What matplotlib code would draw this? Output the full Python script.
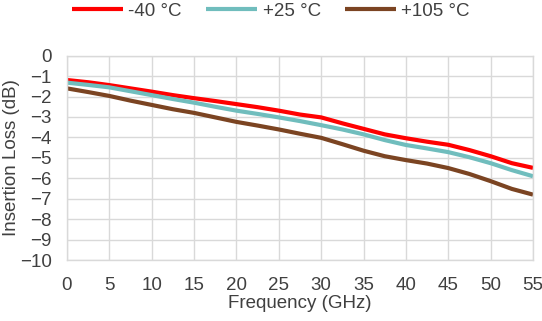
import numpy as np
import matplotlib
matplotlib.use('Agg')
import matplotlib.pyplot as plt

plt.rcParams['font.family'] = ['Liberation Sans', 'DejaVu Sans']

# ==========
# Data
# ==========

freq_ghz = [0, 2.5, 5, 7.5, 10, 12.5, 15, 17.5, 20, 22.5, 25, 27.5,
            30, 32.5, 35, 37.5, 40, 42.5, 45, 47.5, 50, 52.5, 55]

loss_m40 = [-1.19, -1.30, -1.44, -1.60, -1.76, -1.93, -2.08, -2.22, -2.37, -2.52,
            -2.69, -2.88, -3.02, -3.31, -3.58, -3.85, -4.04, -4.21, -4.36, -4.62,
            -4.92, -5.26, -5.49]
loss_p25 = [-1.32, -1.43, -1.55, -1.74, -1.93, -2.12, -2.30, -2.50, -2.69, -2.85,
            -3.02, -3.20, -3.40, -3.61, -3.85, -4.13, -4.37, -4.54, -4.72, -4.97,
            -5.26, -5.60, -5.90]
loss_p105 = [-1.60, -1.78, -1.97, -2.20, -2.41, -2.62, -2.80, -3.02, -3.24, -3.42,
             -3.61, -3.82, -4.02, -4.33, -4.65, -4.92, -5.11, -5.28, -5.50, -5.79,
             -6.14, -6.52, -6.80]

labels = ['-40 °C', '+25 °C', '+105 °C']
colors = ['#ff0000', '#70bdbd', '#7b4422']

# ==========
# Plot
# ==========

fig = plt.figure(figsize=(5.42, 3.21), dpi=100)
ax = fig.add_axes([0.1236, 0.19, 0.8598, 0.6365])

for y, lab, c in zip([loss_m40, loss_p25, loss_p105], labels, colors):
    ax.plot(freq_ghz, y, color=c, lw=3, label=lab, solid_capstyle='butt')

ax.set_xlim(0, 55)
ax.set_ylim(-10, 0)
ax.set_xticks(np.arange(0, 56, 5))
ax.set_yticks(np.arange(-10, 1, 1))
ax.grid(True, color='#d9d9d9', lw=1)
ax.set_axisbelow(True)
for s in ax.spines.values():
    s.set_color('#d9d9d9')
    s.set_linewidth(1)
ax.tick_params(length=0, labelsize=13.5, colors='#404040')
ax.tick_params(axis='x', pad=12)
ax.tick_params(axis='y', pad=11)

ax.set_xlabel('Frequency (GHz)', fontsize=13.5, color='#404040', labelpad=1)
ax.set_ylabel('Insertion Loss (dB)', fontsize=13.5, color='#404040', labelpad=0)

fig.legend(loc='upper center', bbox_to_anchor=(0.5, 1.045), ncol=3, frameon=False,
           fontsize=13.5, handlelength=2.7, handletextpad=0.3, columnspacing=1.3,
           labelcolor='#404040')

fig.savefig('out.png', dpi=100)
